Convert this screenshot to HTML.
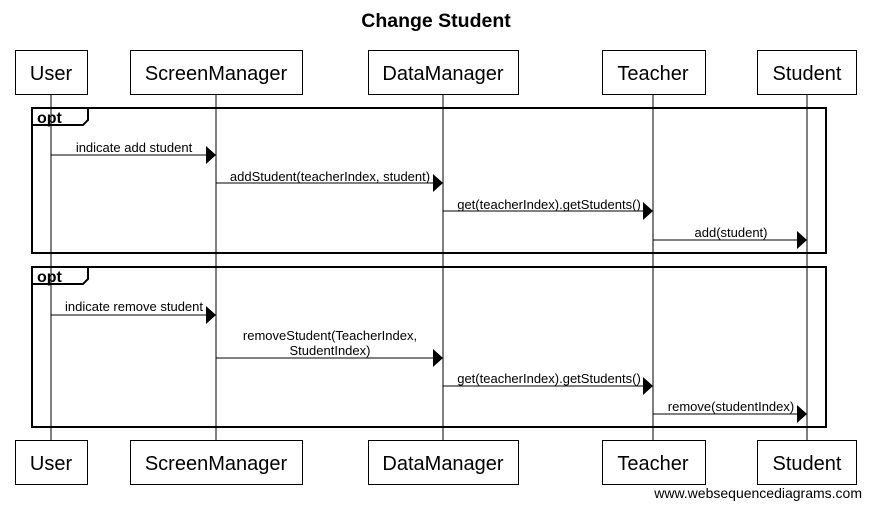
<!DOCTYPE html>
<html><head><style>body{margin:0;background:#fff}svg{display:block}</style></head><body>
<svg width="871" height="509" xmlns="http://www.w3.org/2000/svg" font-family="Liberation Sans, sans-serif">
<rect width="871" height="509" fill="#fff"/>
<text x="436" y="27" font-size="19.5" font-weight="bold" text-anchor="middle">Change Student</text>
<g stroke="#000" stroke-width="1">
<line x1="51" y1="94" x2="51" y2="440"/>
<line x1="216" y1="94" x2="216" y2="440"/>
<line x1="443" y1="94" x2="443" y2="440"/>
<line x1="653" y1="94" x2="653" y2="440"/>
<line x1="807" y1="94" x2="807" y2="440"/>
</g>
<g fill="#fff" stroke="#000">
<rect x="15.5" y="50.5" width="72" height="44"/>
<rect x="130.5" y="50.5" width="172" height="44"/>
<rect x="368.5" y="50.5" width="150" height="44"/>
<rect x="602.5" y="50.5" width="103" height="44"/>
<rect x="757.5" y="50.5" width="99" height="44"/>
<rect x="15.5" y="440.5" width="72" height="44"/>
<rect x="130.5" y="440.5" width="172" height="44"/>
<rect x="368.5" y="440.5" width="150" height="44"/>
<rect x="602.5" y="440.5" width="103" height="44"/>
<rect x="757.5" y="440.5" width="99" height="44"/>
</g>
<g font-size="20" text-anchor="middle">
<text x="51" y="80">User</text><text x="216" y="80">ScreenManager</text><text x="443" y="80">DataManager</text><text x="653" y="80">Teacher</text><text x="807" y="80">Student</text>
<text x="51" y="470">User</text><text x="216" y="470">ScreenManager</text><text x="443" y="470">DataManager</text><text x="653" y="470">Teacher</text><text x="807" y="470">Student</text>
</g>
<g fill="none" stroke="#000" stroke-width="2">
<rect x="32" y="108" width="794" height="145"/>
<path d="M32 125 H83 L88 120 V108"/>
<rect x="32" y="267" width="794" height="160"/>
<path d="M32 284 H83 L88 279 V267"/>
</g>
<g font-size="16" font-weight="bold"><text x="37" y="123">opt</text><text x="37" y="282">opt</text></g>
<g stroke="#000">
<line x1="51" y1="155" x2="207" y2="155"/>
<line x1="216" y1="183" x2="434" y2="183"/>
<line x1="443" y1="211" x2="644" y2="211"/>
<line x1="653" y1="240" x2="798" y2="240"/>
<line x1="51" y1="315" x2="207" y2="315"/>
<line x1="216" y1="358" x2="434" y2="358"/>
<line x1="443" y1="386" x2="644" y2="386"/>
<line x1="653" y1="414" x2="798" y2="414"/>
</g>
<g fill="#000">
<path d="M206 146 L216 155 L206 164Z"/><path d="M433 174 L443 183 L433 192Z"/>
<path d="M643 202 L653 211 L643 220Z"/><path d="M797 231 L807 240 L797 249Z"/>
<path d="M206 306 L216 315 L206 324Z"/><path d="M433 349 L443 358 L433 367Z"/>
<path d="M643 377 L653 386 L643 395Z"/><path d="M797 405 L807 414 L797 423Z"/>
</g>
<g font-size="13" text-anchor="middle">
<text x="134" y="152">indicate add student</text>
<text x="330" y="181">addStudent(teacherIndex, student)</text>
<text x="549" y="209">get(teacherIndex).getStudents()</text>
<text x="731" y="237">add(student)</text>
<text x="134" y="311">indicate remove student</text>
<text x="330" y="340">removeStudent(TeacherIndex,</text>
<text x="330" y="355">StudentIndex)</text>
<text x="549" y="383">get(teacherIndex).getStudents()</text>
<text x="731" y="411">remove(studentIndex)</text>
</g>
<text x="862" y="498" font-size="14" text-anchor="end">www.websequencediagrams.com</text>
</svg>
</body></html>
